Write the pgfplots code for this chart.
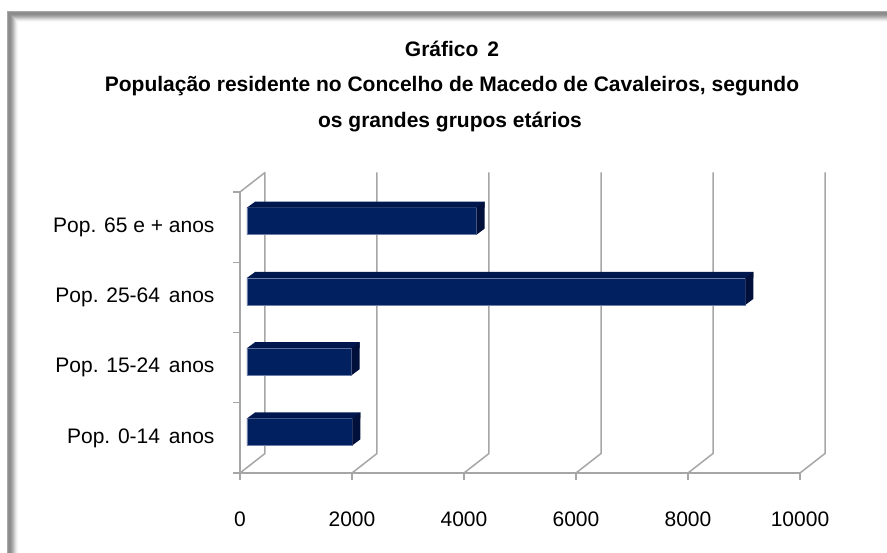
\documentclass[border=0pt]{standalone}
\usepackage{pgfplots}
\pgfplotsset{compat=1.18}
\usepackage{pgfplotstable}
\usepackage{fontspec}
\setmainfont{Liberation Sans}
\definecolor{barfront}{RGB}{0,32,96}
\definecolor{bartop}{RGB}{0,24,78}
\definecolor{barendc}{RGB}{0,16,58}
\definecolor{baredge}{RGB}{110,125,165}
\definecolor{gridc}{RGB}{166,166,166}

\pgfplotstableread{
pos value
0.5 1880
1.5 1870
2.5 8900
3.5 4100
}\popdata

% end face of a 3D bar, relative to the data point (value, category)
\pgfdeclareplotmark{barend}{%
  \pgfpathmoveto{\pgfqpoint{7bp}{19.5bp}}%
  \pgfpathlineto{\pgfqpoint{15bp}{25.5bp}}%
  \pgfpathlineto{\pgfqpoint{15bp}{-1.5bp}}%
  \pgfpathlineto{\pgfqpoint{7bp}{-7.5bp}}%
  \pgfpathclose
  \pgfusepathqfill}
% slanted left corner of the top face
\pgfdeclareplotmark{bartopleft}{%
  \pgfpathmoveto{\pgfqpoint{7bp}{19.5bp}}%
  \pgfpathlineto{\pgfqpoint{15.2bp}{19.5bp}}%
  \pgfpathlineto{\pgfqpoint{15.2bp}{25.5bp}}%
  \pgfpathclose
  \pgfusepathqfill}

\begin{document}
\begin{tikzpicture}
\useasboundingbox (-240bp,-80bp) rectangle (647bp,473bp);
% frame
\begin{scope}
\clip (-240bp,-80bp) rectangle (647bp,473bp);
\foreach \k/\g in {0/66,1/56,2/54,3/56,4/60,5/66,6/73,7/80,8/87,9/93,10/97} {
  \definecolor{fr}{gray}{0.\g}
  \draw[fr, line width=1.05bp] (-233bp+\k bp+0.5bp,-200bp) -- (-233bp+\k bp+0.5bp,462bp-\k bp-0.5bp) -- (800bp,462bp-\k bp-0.5bp);
}
\end{scope}
% title
\node[anchor=base, font=\bfseries\fontsize{21bp}{25bp}\selectfont] at (212bp,416bp) {Gráfico\hspace{3bp} 2};
\node[anchor=base, font=\bfseries\fontsize{21bp}{25bp}\selectfont] at (212bp,381bp) {População residente no Concelho de Macedo de Cavaleiros, segundo};
\node[anchor=base, font=\bfseries\fontsize{21bp}{25bp}\selectfont] at (210bp,345bp) {os grandes grupos etários};

\begin{axis}[
  width=560bp, height=281bp, scale only axis,
  xmin=0, xmax=10000, ymin=0, ymax=4,
  clip=false,
  axis lines*=left,
  axis line style={gridc, line width=1.5bp},
  tick align=outside,
  major tick length=7bp,
  every tick/.style={gridc, line width=1.2bp},
  xtick={0,2000,4000,6000,8000,10000},
  scaled x ticks=false,
  /pgf/number format/assume math mode=true,
  /pgf/number format/set thousands separator={},
  ytick={0,1,2,3,4},
  yticklabels={},
  extra y ticks={0.5,1.5,2.5,3.5},
  extra y tick labels={Pop. 0-14\hspace{3bp} anos, Pop. 15-24\hspace{3bp} anos, Pop. 25-64\hspace{3bp} anos, Pop. 65 e + anos},
  extra y tick style={major tick length=0pt},
  tick label style={font=\fontsize{21bp}{25bp}\selectfont, black},
  xticklabel style={yshift=-28bp},
  yticklabel style={xshift=-22bp},
]
% back wall gridlines and floor lines
\pgfplotsinvokeforeach{0,2000,4000,6000,8000,10000}{
  \draw[gridc, line width=1.5bp] (axis cs:#1,0) -- ++(25bp,19.5bp) -- ++(0bp,281bp);
}
\draw[gridc, line width=1.5bp] (axis cs:0,4) -- ++(25bp,19.5bp);
% bars: front face, top face, end face
\addplot[xbar, bar width=27bp, fill=barfront, draw=baredge, line width=0.5bp, xshift=7bp, yshift=6bp] table[x=value, y=pos] {\popdata};
\addplot[xbar, bar width=6bp, fill=bartop, draw=none, xshift=15bp, yshift=22.5bp] table[x=value, y=pos] {\popdata};
\addplot[only marks, mark=barend, mark options={fill=barendc, draw=none}] table[x=value, y=pos] {\popdata};
\addplot[only marks, mark=bartopleft, mark options={fill=bartop, draw=none}] table[x expr=0, y=pos] {\popdata};
\end{axis}
\end{tikzpicture}
\end{document}
